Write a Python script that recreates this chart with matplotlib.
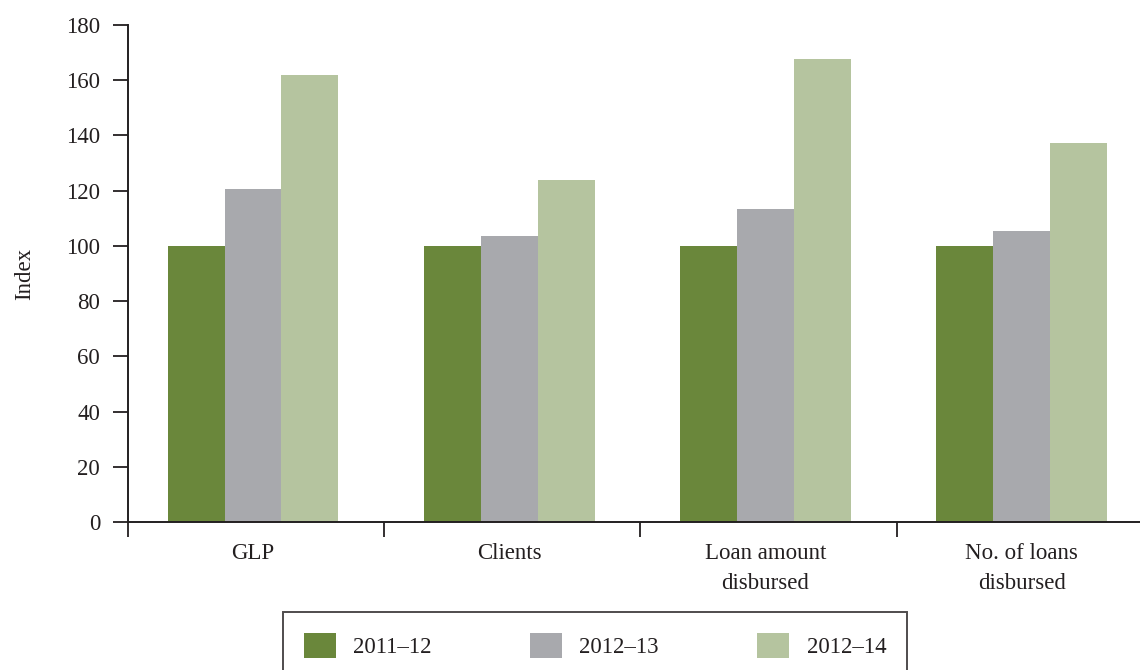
import matplotlib
matplotlib.use("Agg")
import matplotlib.pyplot as plt
import numpy as np

categories = ["GLP", "Clients", "Loan amount\ndisbursed", "No. of loans\ndisbursed"]
series = ["2011\u201312", "2012\u201313", "2012\u201314"]
values = [
    [100, 100, 100, 100],
    [120.5, 103.5, 113.3, 105.3],
    [161.8, 123.8, 167.6, 137.2],
]
colors = ["#6a873b", "#a8a9ad", "#b5c49f"]
yticks = [0, 20, 40, 60, 80, 100, 120, 140, 160, 180]

plt.rcParams['font.family'] = ['Liberation Serif', 'DejaVu Serif']
ink = "#231f20"
fs = 16.5

fig = plt.figure(figsize=[11.4, 6.7], dpi=100)
ax = fig.add_axes([128/1140, 1 - 522/670, 1 - 128/1140, (522 - 25)/670])

x = np.arange(len(categories)) - 0.012
w = 0.222
for i, (s, v, c) in enumerate(zip(series, values, colors)):
    ax.bar(x + (i - 1) * w, v, width=w, color=c, label=s, linewidth=0)

ax.set_ylim(0, 180)
ax.set_xlim(-0.5, 3.45)
ax.set_yticks(yticks)
ax.tick_params(axis="y", direction="out", length=11, width=1.3, color=ink,
               labelsize=fs, labelcolor=ink, pad=9)

ax.set_xticks(x)
ax.set_xticklabels(categories, fontsize=fs, color=ink, linespacing=1.55)
ax.set_xticks(np.arange(-0.5, 3.0, 1.0), minor=True)
ax.tick_params(axis="x", which="major", length=0, pad=15)
ax.tick_params(axis="x", which="minor", direction="out", length=11,
               width=1.3, color=ink)

for side in ["top", "right"]:
    ax.spines[side].set_visible(False)
for side in ["left", "bottom"]:
    ax.spines[side].set_color(ink)
    ax.spines[side].set_linewidth(1.4)

ax.set_ylabel("Index", fontsize=fs, color=ink, labelpad=22)

leg = fig.legend(loc="upper left", bbox_to_anchor=(283/1140, 1 - 612/670),
                 ncol=3, fontsize=fs, frameon=True, fancybox=False,
                 edgecolor=ink, handlelength=1.4, handleheight=1.3,
                 columnspacing=4.3, handletextpad=0.75, borderpad=0.9,
                 borderaxespad=0)
leg.get_frame().set_linewidth(1.4)
for t in leg.get_texts():
    t.set_color(ink)

fig.savefig("out.png", dpi=100)
